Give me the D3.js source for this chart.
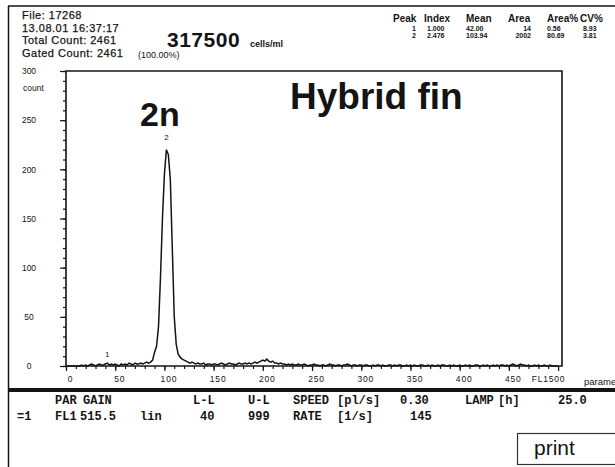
<!DOCTYPE html>
<html>
<head>
<meta charset="utf-8">
<script src="https://cdn.jsdelivr.net/npm/d3@7"></script>
<style>
  html, body { margin: 0; padding: 0; background: #fff; }
  svg { display: block; }
</style>
</head>
<body>
<div id="chart"></div>
<script>
// Histogram counts, FL1 channel bins of width 2 starting at channel 0
const binWidth = 2;
const fl1Counts = [
  0, 0, 0, 0, 0, 0, 0, 0, 1, 0,          // 0-18
  1, 0, 1, 2, 1, 0, 1, 2, 1, 1,          // 20-38
  2, 3, 1, 2, 1, 2, 1, 0, 2, 1,          // 40-58
  2, 1, 3, 2, 1, 3, 2, 2, 3, 2,          // 60-78
  3, 4, 3, 4, 6,                         // 80-88
  14, 20, 40, 90, 150, 195, 220, 215, 190, 120,  // 90-108
  50, 22, 12, 9, 7, 6, 5, 4, 3, 4,       // 110-128
  3, 2, 3, 2, 2, 3, 1, 2, 2, 1, 2, 2, 1, 2, 3,   // 130-158
  2, 1, 2, 3, 2, 2, 1, 2, 3, 2, 2, 3, 2, 3, 2, 3, 4, 3, 4, 5, // 160-198
  6, 5, 7, 5, 4, 5, 3, 3, 2, 3, 2, 2, 1, 2, 1,   // 200-228
  2, 1, 1, 2, 1, 1, 2, 1, 0, 1, 1, 2, 1, 1, 0,   // 230-258
  1, 1, 0, 1, 2, 1, 1, 0, 1, 1, 0, 1, 1, 2, 1, 0, 1, 1, 0, 1, // 260-298
  1, 0, 1, 1, 0, 0, 1, 0, 1, 1, 0, 1, 0, 0, 1, 1, 0, 1, 0, 1, 1, 0, 0, 1, 0, // 300-348
  1, 0, 1, 0, 0, 1, 1, 0, 0, 1, 0, 1, 0, 0, 1, 0, 1, 1, 0, 0, 1, 0, 1, 0, 0, // 350-398
  1, 0, 0, 1, 0, 1, 0, 0, 1, 1, 0, 0, 1, 0, 1, 0, 0, 1, 0, 1, 0, 1, 1, 0, 1, // 400-448
  0, 1, 2, 1, 0, 1, 2, 1, 1, 0, 1, 0, 0, 1, 0, 1, 0, 0, 1, 0, 0, 1, 0, 0, 0, 0  // 450-500
];

const yMajorTicks = [0, 50, 100, 150, 200, 250, 300];
const xMajorTicks = [0, 50, 100, 150, 200, 250, 300, 350, 400, 450, 500];

// peak markers drawn over the histogram
const peakMarks = [
  { label: "1", channel: 42, count: 5 },
  { label: "2", channel: 102, count: 226 }
];

// header info
const headerLines = ["File: 17268", "13.08.01 16:37:17", "Total Count: 2461", "Gated Count: 2461"];
const concentration = "317500";
const gatedPct = "(100.00%)";

// peak table
const peakCols = ["Peak", "Index", "Mean", "Area", "Area%", "CV%"];
const peakIds = ["1", "2"];
const peakIndex = ["1.000", "2.476"];
const peakMean = ["42.00", "103.94"];
const peakArea = ["14", "2002"];
const peakAreaPct = ["0.56", "80.69"];
const peakCV = ["8.93", "3.81"];

// instrument settings rows
const settingsRow1 = ["PAR", "GAIN", "L-L", "U-L", "SPEED", "[pl/s]", "0.30", "LAMP", "[h]", "25.0"];
const settingsRow2 = ["=1", "FL1", "515.5", "lin", "40", "999", "RATE", "[1/s]", "145"];

const width = 615, height = 467;
const ink = "#141414";
const sans = "'Liberation Sans', Arial, sans-serif";
const mono = "'Liberation Mono', 'DejaVu Sans Mono', monospace";

const svg = d3.select("#chart").append("svg")
  .attr("width", width)
  .attr("height", height)
  .style("font-family", sans);

// outer frame (top + left)
svg.append("line").attr("x1", 8).attr("x2", width).attr("y1", 6).attr("y2", 6)
  .attr("stroke", ink).attr("stroke-width", 1.5);
svg.append("line").attr("x1", 8.5).attr("x2", 8.5).attr("y1", 6).attr("y2", height)
  .attr("stroke", ink).attr("stroke-width", 1.5);

// header text
headerLines.forEach((t, i) => {
  svg.append("text").attr("x", 22).attr("y", 19 + i * 12.7)
    .text(t).attr("fill", ink)
    .attr("stroke", ink).attr("stroke-width", 0.25)
    .style("font-size", "11px").style("letter-spacing", "0.5px");
});
svg.append("text").attr("x", 167).attr("y", 47).text(concentration)
  .attr("fill", ink).style("font-size", "21px").style("font-weight", "bold")
  .style("letter-spacing", "0.5px");
svg.append("text").attr("x", 250).attr("y", 47).text("cells/ml")
  .attr("fill", ink).style("font-size", "9px").style("font-weight", "bold");
svg.append("text").attr("x", 138).attr("y", 58).text(gatedPct)
  .attr("fill", ink).style("font-size", "9px");

// peak table
const colX = [393, 424, 466, 508, 547, 580];
peakCols.forEach((c, i) => {
  svg.append("text").attr("x", colX[i]).attr("y", 22).text(c)
    .attr("fill", ink).style("font-size", "10px").style("font-weight", "bold");
});
peakIds.forEach((id, r) => {
  const yy = 31 + r * 7;
  const cells = [
    [id, 414, "middle"], [peakIndex[r], 427, "start"], [peakMean[r], 466, "start"],
    [peakArea[r], 531, "end"], [peakAreaPct[r], 547, "start"], [peakCV[r], 583, "start"]
  ];
  cells.forEach(([t, x, anchor]) => {
    svg.append("text").attr("x", x).attr("y", yy).text(t)
      .attr("text-anchor", anchor).attr("fill", ink)
      .style("font-size", "7px").style("font-weight", "bold");
  });
});

// plot area
const x = d3.scaleLinear().domain([0, 504]).range([66, 562]);
const y = d3.scaleLinear().domain([0, 300]).range([366, 71]);

// box
svg.append("path")
  .attr("d", `M${x(0)},${y(0)} V${y(300)} H${x(504)} V${y(0)} Z`)
  .attr("fill", "none").attr("stroke", ink).attr("stroke-width", 1.6);

// y axis: minor + major ticks
svg.append("g").attr("transform", `translate(${x(0)},0)`)
  .call(d3.axisLeft(y).tickValues(d3.range(0, 301, 10)).tickSize(3).tickFormat(""))
  .call(g => g.select(".domain").remove())
  .call(g => g.selectAll("line").attr("stroke", ink).attr("stroke-width", 1.2));
svg.append("g").attr("transform", `translate(${x(0)},0)`)
  .call(d3.axisLeft(y).tickValues(yMajorTicks).tickSize(6))
  .call(g => g.select(".domain").remove())
  .call(g => g.selectAll("line").attr("stroke", ink).attr("stroke-width", 1.2))
  .call(g => g.selectAll("text")
    .attr("x", 29 - x(0)).attr("text-anchor", "middle")
    .attr("fill", ink).style("font-family", sans).style("font-size", "8.5px"));
svg.append("text").attr("x", 23).attr("y", 91).text("count")
  .attr("fill", ink).style("font-size", "8.5px");

// x axis: minor + major ticks
svg.append("g").attr("transform", `translate(0,${y(0)})`)
  .call(d3.axisBottom(x).tickValues(d3.range(0, 501, 10)).tickSize(3).tickFormat(""))
  .call(g => g.select(".domain").remove())
  .call(g => g.selectAll("line").attr("stroke", ink).attr("stroke-width", 1.2));
svg.append("g").attr("transform", `translate(0,${y(0)})`)
  .call(d3.axisBottom(x).tickValues(xMajorTicks).tickSize(5)
    .tickFormat(d => d === 500 ? "FL1500" : d))
  .call(g => g.select(".domain").remove())
  .call(g => g.selectAll("line").attr("stroke", ink).attr("stroke-width", 1.2))
  .call(g => g.selectAll("text")
    .attr("dx", 4).attr("y", 10)
    .attr("fill", ink).style("font-family", sans).style("font-size", "8.5px")
    .style("letter-spacing", "0.8px"))
  .call(g => g.selectAll("text").filter(d => d === 500).attr("dx", -10));

// parameter label (cut off at the right edge, as in the print)
svg.append("text").attr("x", 584).attr("y", 385).text("parameter")
  .attr("fill", ink).style("font-size", "9.5px");

// histogram trace
const points = fl1Counts.map((c, i) => ({ ch: i * binWidth, c }));
svg.append("path")
  .datum(points)
  .attr("fill", "none")
  .attr("stroke", ink)
  .attr("stroke-width", 1.5)
  .attr("stroke-linejoin", "miter")
  .attr("d", d3.line().x(d => x(d.ch)).y(d => y(d.c)));

// peak labels
peakMarks.forEach(p => {
  svg.append("text").attr("x", x(p.channel)).attr("y", y(p.count) - 4)
    .text(p.label).attr("text-anchor", "middle")
    .attr("fill", ink).style("font-size", "8px");
});

// annotations
svg.append("text").attr("x", 140).attr("y", 126).text("2n")
  .attr("fill", ink).style("font-size", "34px").style("font-weight", "bold");
svg.append("text").attr("x", 290).attr("y", 109).text("Hybrid fin")
  .attr("fill", ink).style("font-size", "37px").style("font-weight", "bold");

// separator
svg.append("line").attr("x1", 8).attr("x2", width).attr("y1", 390).attr("y2", 390)
  .attr("stroke", ink).attr("stroke-width", 4);

// settings rows
const row1X = [55, 83, 193, 248, 293, 337, 400, 465, 498, 558];
const row2X = [17, 55, 80, 140, 200, 248, 293, 337, 410];
settingsRow1.forEach((t, i) => {
  svg.append("text").attr("x", row1X[i]).attr("y", 404).text(t)
    .attr("fill", ink).style("font-family", mono).style("font-size", "12px")
    .style("font-weight", "bold");
});
settingsRow2.forEach((t, i) => {
  svg.append("text").attr("x", row2X[i]).attr("y", 420).text(t)
    .attr("fill", ink).style("font-family", mono).style("font-size", "12px")
    .style("font-weight", "bold");
});

// print button
svg.append("rect").attr("x", 517.5).attr("y", 433.5).attr("width", 110).attr("height", 31)
  .attr("fill", "#fff").attr("stroke", "#333").attr("stroke-width", 1.2);
svg.append("text").attr("x", 534).attr("y", 455).text("print")
  .attr("fill", ink).style("font-size", "21px");
</script>
</body>
</html>
